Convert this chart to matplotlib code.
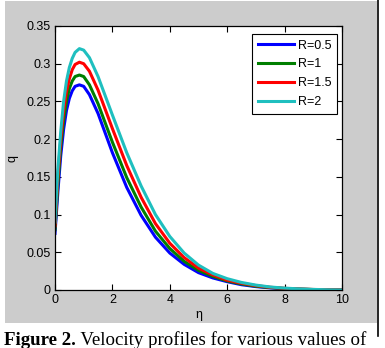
"""Velocity profiles q(eta) for several R values (MATLAB-style screenshot)."""

import matplotlib
matplotlib.use('Agg')
import matplotlib.pyplot as plt
from matplotlib.patches import Rectangle
from matplotlib.lines import Line2D

plt.rcParams['font.family'] = ['Liberation Sans', 'DejaVu Sans']

ETA = [0, 0.1, 0.2, 0.3, 0.4, 0.5, 0.6, 0.7, 0.85, 1.0, 1.2, 1.5, 2.0, 2.5, 3.0,
       3.5, 4.0, 4.5, 5.0, 5.5, 6.0, 6.5, 7.0, 7.5, 8.0, 8.5, 9.0, 9.5, 10.0]

Q_R05 = [0.075, 0.13, 0.178, 0.213, 0.238, 0.254, 0.264, 0.27, 0.272, 0.27, 0.259,
         0.234, 0.182, 0.136, 0.099, 0.070, 0.049, 0.034, 0.023, 0.016, 0.011,
         0.007, 0.0045, 0.0028, 0.0017, 0.001, 0.0005, 0.0002, 0.0]
Q_R1 = [0.08, 0.14, 0.19, 0.225, 0.25, 0.267, 0.277, 0.283, 0.285, 0.283, 0.272,
        0.247, 0.196, 0.149, 0.110, 0.078, 0.055, 0.038, 0.026, 0.018, 0.012,
        0.008, 0.005, 0.0032, 0.002, 0.0012, 0.0006, 0.0002, 0.0]
Q_R15 = [0.085, 0.15, 0.20, 0.237, 0.263, 0.28, 0.292, 0.299, 0.302, 0.30, 0.29,
         0.265, 0.214, 0.165, 0.123, 0.088, 0.062, 0.043, 0.029, 0.020, 0.013,
         0.009, 0.0058, 0.0036, 0.0022, 0.0013, 0.0007, 0.0003, 0.0]
Q_R2 = [0.09, 0.16, 0.21, 0.25, 0.277, 0.295, 0.307, 0.315, 0.32, 0.318, 0.308,
        0.283, 0.232, 0.182, 0.138, 0.100, 0.071, 0.049, 0.033, 0.022, 0.015,
        0.010, 0.0065, 0.004, 0.0025, 0.0015, 0.0008, 0.0003, 0.0]

SERIES = [Q_R05, Q_R1, Q_R15, Q_R2]
LABELS = ['R=0.5', 'R=1', 'R=1.5', 'R=2']
COLORS = ['#0000ff', '#007f00', '#ff0000', '#1fbfbf']

W, H = 385, 348
fig = plt.figure(figsize=(W / 100, H / 100), dpi=100, facecolor='white')

# grey MATLAB figure window + right border line
fig.patches.append(Rectangle((5 / W, 1 - 323 / H), 372 / W, 322 / H,
                             transform=fig.transFigure, facecolor='#cccccc',
                             edgecolor='none', zorder=-5))
fig.add_artist(Line2D([378 / W, 378 / W], [1 - 336 / H, 1.0],
                      transform=fig.transFigure, color='black', linewidth=1.2))

ax = fig.add_axes([55 / W, 1 - 290 / H, 287 / W, 264 / H])
ax.set_zorder(2)
ax.set_facecolor('white')
for q, lab, c in zip(SERIES, LABELS, COLORS):
    ax.plot(ETA, q, color=c, linewidth=2.2, label=lab)

ax.set_xlim(0, 10)
ax.set_ylim(0, 0.35)
ax.set_xticks([0, 2, 4, 6, 8, 10])
ax.set_yticks([0, 0.05, 0.1, 0.15, 0.2, 0.25, 0.3, 0.35])
ax.set_yticklabels(['0', '0.05', '0.1', '0.15', '0.2', '0.25', '0.3', '0.35'])
ax.tick_params(direction='in', top=True, right=True, length=4, width=0.8,
               labelsize=9, pad=3)
for s in ax.spines.values():
    s.set_linewidth(0.9)
ax.set_xlabel('η', fontsize=9, labelpad=2)
ax.set_ylabel('q', fontsize=9, labelpad=6)

leg = ax.legend(loc='upper right', bbox_to_anchor=(0.983, 0.970),
                borderaxespad=0, fontsize=9, handlelength=2.9,
                labelspacing=0.55, handletextpad=0.3, borderpad=0.45,
                fancybox=False, edgecolor='black', framealpha=1)
leg.get_frame().set_linewidth(0.8)

# caption below the grey window
y_base = 1 - 345 / H
t1 = fig.text(4 / W, y_base, 'Figure 2.', fontsize=13.6, fontweight='bold',
              family='Liberation Serif', va='baseline')
fig.canvas.draw()
bb = t1.get_window_extent()
fig.text((bb.x1 + 0.5) / W, y_base, ' Velocity profiles for various values of',
         fontsize=13.6, family='Liberation Serif', va='baseline')

fig.savefig('out.png', dpi=100, facecolor='white')
